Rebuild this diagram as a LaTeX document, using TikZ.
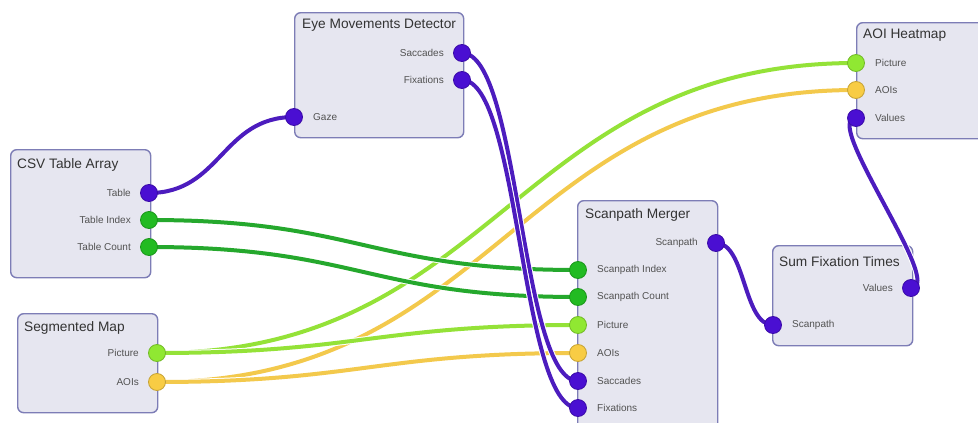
\documentclass[tikz,border=0pt]{standalone}
\usepackage{fontspec}
\setmainfont{Liberation Sans}
\usetikzlibrary{calc}
\pgfdeclarelayer{bg}
\pgfdeclarelayer{wires}
\pgfsetlayers{bg,wires,main}

\definecolor{boxfill}{HTML}{E6E6F0}
\definecolor{boxline}{HTML}{7D7DB6}
\definecolor{txt}{HTML}{333333}
\definecolor{purp}{HTML}{4A0FD2}
\definecolor{purpwire}{HTML}{4C1CBE}
\definecolor{dgreen}{HTML}{22BB22}
\definecolor{dgreenwire}{HTML}{25A82D}
\definecolor{lgreen}{HTML}{90E832}
\definecolor{lgreenwire}{HTML}{94E238}
\definecolor{yell}{HTML}{F8CC44}
\definecolor{yellwire}{HTML}{F3C94C}

\tikzset{
  blockbox/.style={draw=boxline, line width=1.4pt, fill=boxfill, rounded corners=6pt,
    anchor=north west, inner sep=0pt},
  blocktitle/.style={anchor=west, text=txt, inner sep=0pt,
    font=\fontsize{13.7}{16}\selectfont},
  portdot/.style={circle, minimum size=17pt, inner sep=0pt, line width=0.8pt},
  pPurp/.style={portdot, fill=purp, draw=purp!80!black},
  pDGreen/.style={portdot, fill=dgreen, draw=dgreen!80!black},
  pLGreen/.style={portdot, fill=lgreen, draw=lgreen!80!black},
  pYell/.style={portdot, fill=yell, draw=yell!80!black},
  inlabel/.style={anchor=west, text=txt!85, inner sep=0pt,
    font=\fontsize{10}{12}\selectfont},
  outlabel/.style={anchor=east, text=txt!85, inner sep=0pt,
    font=\fontsize{10}{12}\selectfont},
  wire/.style={line width=4pt, line cap=round,
    preaction={draw=white, line width=6pt}},
}

% wire from output port #1 to input port #2 with horizontal handle #3
\newcommand{\linkwire}[4]{%
  \draw[wire, #4] (#1.center) .. controls +(#3,0) and +(-#3,0) .. (#2.center);}

\begin{document}
\begin{tikzpicture}[x=1pt, y=-1pt]
\useasboundingbox (0,0) rectangle (978,423);
\clip (0,0) rectangle (978,423);

% ---- blocks ----
\begin{pgfonlayer}{bg}
\node[blockbox, minimum width=140pt, minimum height=128pt] (csv) at (10,149) {};
\node[blockbox, minimum width=169pt, minimum height=125pt] (emd) at (294,12) {};
\node[blockbox, minimum width=140pt, minimum height=250pt] (spm) at (577,200) {};
\node[blockbox, minimum width=140pt, minimum height=116pt] (aoi) at (856,22) {};
\node[blockbox, minimum width=140pt, minimum height=100pt] (sft) at (772,245) {};
\node[blockbox, minimum width=140pt, minimum height=99pt] (seg) at (17,313) {};
\end{pgfonlayer}

\node[blocktitle] (csv-t) at (17,165) {CSV Table Array};
\node[blocktitle] (emd-t) at (302,25) {Eye Movements Detector};
\node[blocktitle] (spm-t) at (585,215) {Scanpath Merger};
\node[blocktitle] (aoi-t) at (863,35) {AOI Heatmap};
\node[blocktitle] (sft-t) at (779,262) {Sum Fixation Times};
\node[blocktitle] (seg-t) at (24,328) {Segmented Map};

% ---- ports ----
% CSV Table Array
\node[pPurp]   (csv-table) at (149,193) {};
\node[pDGreen] (csv-index) at (149,220) {};
\node[pDGreen] (csv-count) at (149,247) {};
\node[outlabel] at (131,193) {Table};
\node[outlabel] at (131,220) {Table Index};
\node[outlabel] at (131,247) {Table Count};

% Eye Movements Detector
\node[pPurp] (emd-gaze) at (294,117) {};
\node[pPurp] (emd-sacc) at (462,53) {};
\node[pPurp] (emd-fix)  at (462,80) {};
\node[inlabel]  at (313,117) {Gaze};
\node[outlabel] at (444,53) {Saccades};
\node[outlabel] at (444,80) {Fixations};

% Scanpath Merger
\node[pPurp]   (spm-out)   at (716,243) {};
\node[pDGreen] (spm-index) at (578,270) {};
\node[pDGreen] (spm-count) at (578,297) {};
\node[pLGreen] (spm-pic)   at (578,325) {};
\node[pYell]   (spm-aoi)   at (578,353) {};
\node[pPurp]   (spm-sacc)  at (578,381) {};
\node[pPurp]   (spm-fix)   at (578,408) {};
\node[outlabel] at (698,243) {Scanpath};
\node[inlabel] at (597,270) {Scanpath Index};
\node[inlabel] at (597,297) {Scanpath Count};
\node[inlabel] at (597,325) {Picture};
\node[inlabel] at (597,353) {AOIs};
\node[inlabel] at (597,381) {Saccades};
\node[inlabel] at (597,408) {Fixations};

% AOI Heatmap
\node[pLGreen] (aoi-pic) at (856,63) {};
\node[pYell]   (aoi-aoi) at (856,90) {};
\node[pPurp]   (aoi-val) at (856,118) {};
\node[inlabel] at (875,63) {Picture};
\node[inlabel] at (875,90) {AOIs};
\node[inlabel] at (875,118) {Values};

% Sum Fixation Times
\node[pPurp] (sft-val)  at (911,288) {};
\node[pPurp] (sft-scan) at (773,325) {};
\node[outlabel] at (893,288) {Values};
\node[inlabel]  at (792,325) {Scanpath};

% Segmented Map
\node[pLGreen] (seg-pic) at (157,353) {};
\node[pYell]   (seg-aoi) at (157,382) {};
\node[outlabel] at (139,353) {Picture};
\node[outlabel] at (139,382) {AOIs};

% ---- connections ----
\begin{pgfonlayer}{wires}
\linkwire{seg-pic}{aoi-pic}{340}{lgreenwire}
\linkwire{seg-aoi}{aoi-aoi}{340}{yellwire}
\linkwire{seg-pic}{spm-pic}{200}{lgreenwire}
\linkwire{seg-aoi}{spm-aoi}{200}{yellwire}
\linkwire{csv-index}{spm-index}{210}{dgreenwire}
\linkwire{csv-count}{spm-count}{210}{dgreenwire}
\linkwire{csv-table}{emd-gaze}{72}{purpwire}
\linkwire{emd-sacc}{spm-sacc}{58}{purpwire}
\linkwire{emd-fix}{spm-fix}{58}{purpwire}
\linkwire{spm-out}{sft-scan}{30}{purpwire}
\linkwire{sft-val}{aoi-val}{36}{purpwire}
\end{pgfonlayer}
\end{tikzpicture}
\end{document}
